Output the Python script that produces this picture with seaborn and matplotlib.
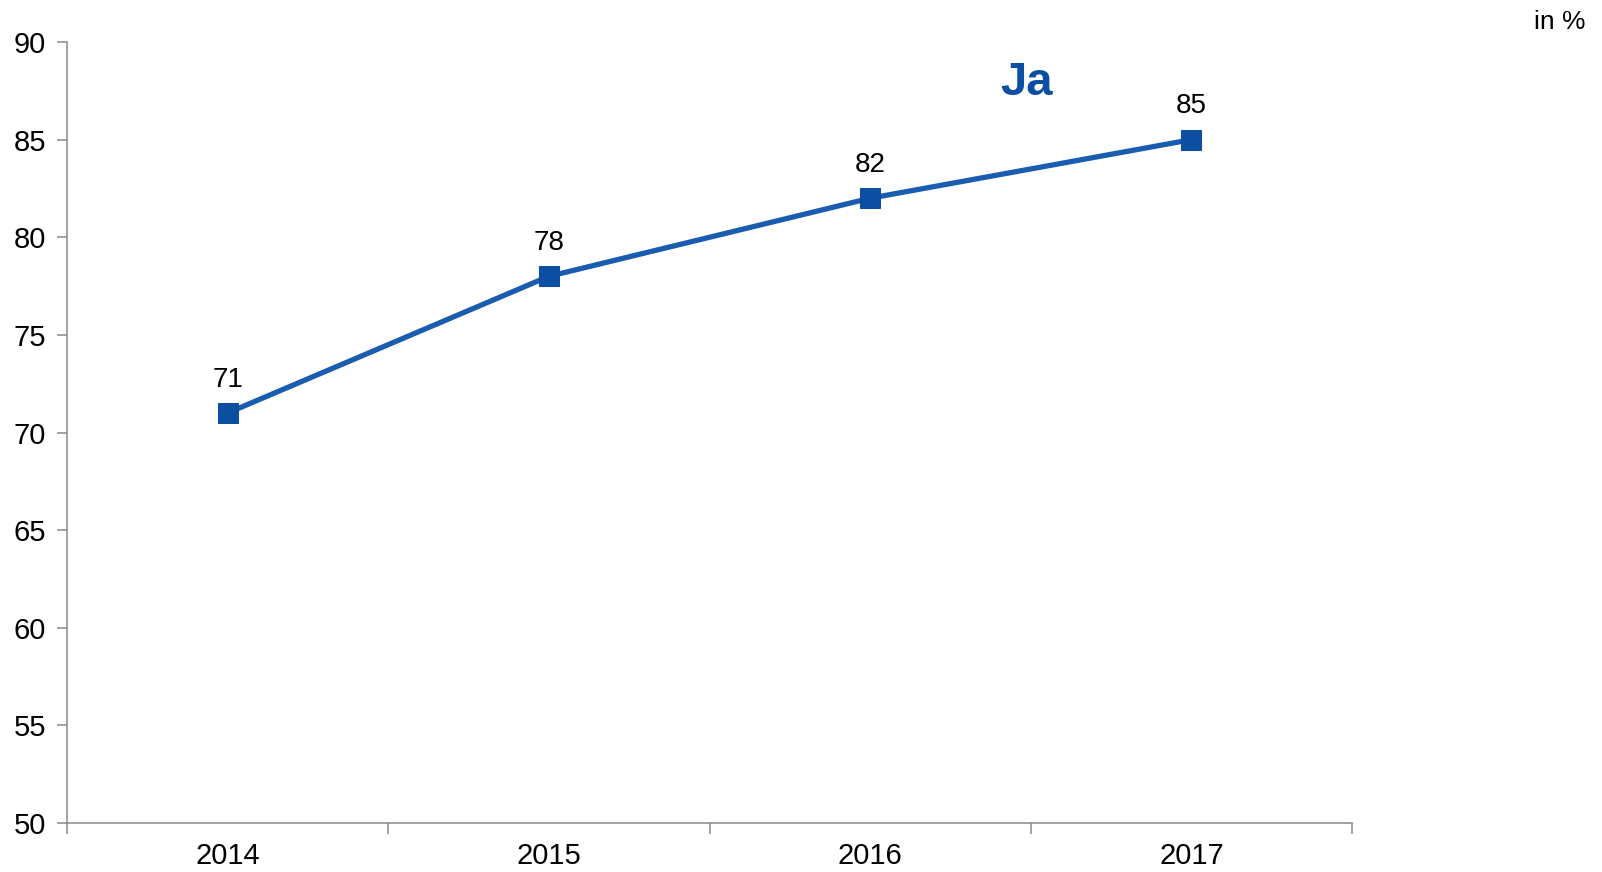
import numpy as np
import pandas as pd
import matplotlib
matplotlib.use('Agg')
import matplotlib.pyplot as plt
import seaborn as sns

years = ['2014', '2015', '2016', '2017']
values = [71, 78, 82, 85]
series_name = 'Ja'
unit_label = 'in %'

sns.set_style('white')
plt.rcParams['font.family'] = ['Liberation Sans', 'DejaVu Sans']
plt.rcParams['text.color'] = 'black'
plt.rcParams['xtick.labelcolor'] = 'black'
plt.rcParams['ytick.labelcolor'] = 'black'

df = pd.DataFrame({'pos': np.arange(len(years)), 'value': values})

fig = plt.figure(figsize=(16.02, 8.72), dpi=100)
ax = fig.add_axes([0.0418, 0.0562, 0.8022, 0.8956])

sns.lineplot(data=df, x='pos', y='value', ax=ax, color='#1a5cb0', linewidth=3.8,
             marker='s', markersize=14, markerfacecolor='#0b4ea2',
             markeredgecolor='#0b4ea2')

for x, v in zip(df['pos'], df['value']):
    ax.annotate(f'{v}', (x, v), xytext=(0, 19), textcoords='offset points',
                ha='center', va='baseline', fontsize=20, color='black')

ax.set_xlim(-0.5, len(years) - 0.5)
ax.set_ylim(50, 90)
ax.set_yticks(np.arange(50, 91, 5))
ax.set_xticks(np.arange(len(years) + 1) - 0.5)
ax.set_xticklabels([])
ax.set_xticks(np.arange(len(years)), minor=True)
ax.set_xticklabels(years, minor=True)
ax.tick_params(axis='x', which='major', direction='out', length=8, width=1.1,
               color='#898989', bottom=True)
ax.tick_params(axis='x', which='minor', length=0, labelsize=21, pad=14,
               labelcolor='black')
ax.tick_params(axis='y', direction='out', length=7, width=1.1, color='#898989',
               left=True, labelsize=21, pad=8, labelcolor='black')
ax.set_xlabel('')
ax.set_ylabel('')
for side in ['top', 'right']:
    ax.spines[side].set_visible(False)
for side in ['left', 'bottom']:
    ax.spines[side].set_color('#898989')
    ax.spines[side].set_linewidth(1.1)

ax.text(0.747, 0.932, series_name, transform=ax.transAxes, ha='center',
        va='baseline', fontsize=34, fontweight='bold', color='#0b4ea2')
fig.text(0.99, 0.967, unit_label, ha='right', va='baseline', fontsize=19,
         color='black')

fig.savefig('out.png', dpi=100)
